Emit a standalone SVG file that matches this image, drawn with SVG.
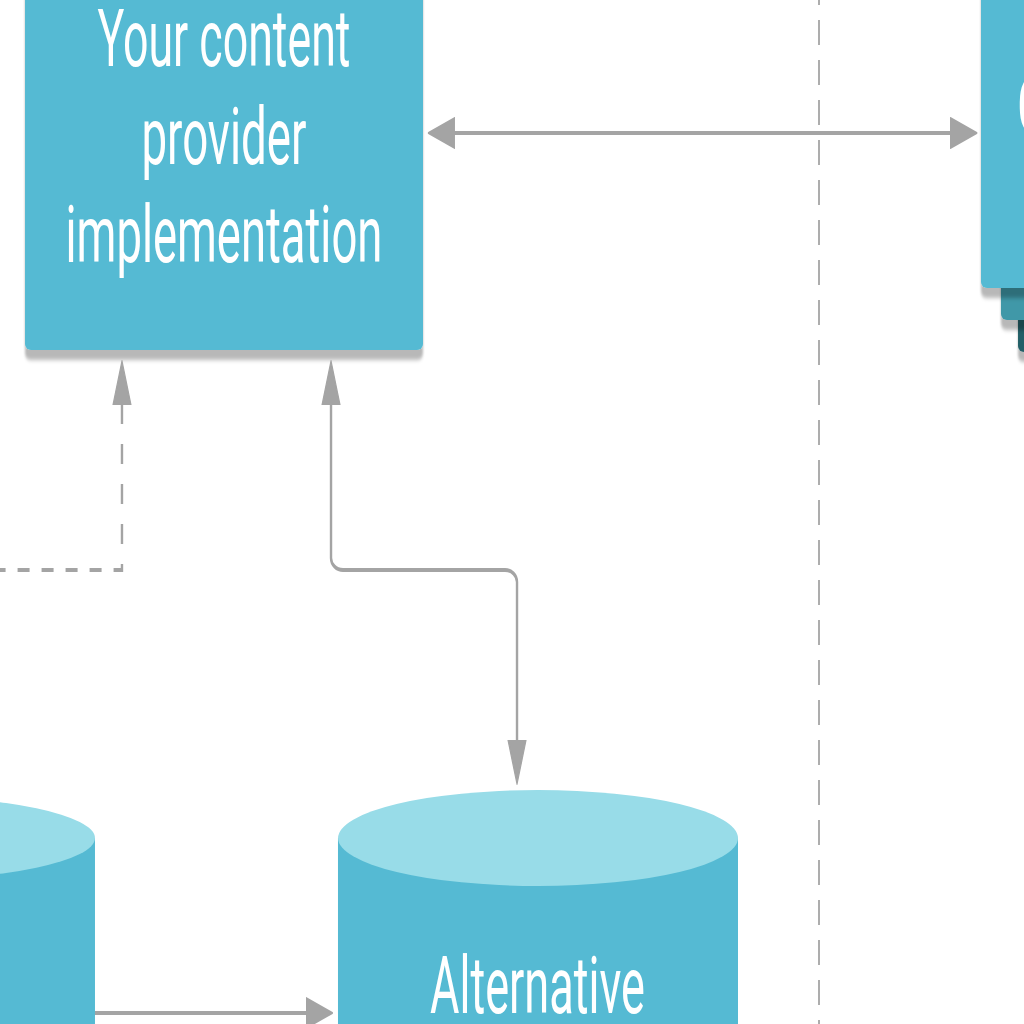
<svg xmlns="http://www.w3.org/2000/svg" width="1024" height="1024" viewBox="0 0 1024 1024">
  <style>
    .box { fill: #55BAD3; }
    .lbl { font-family: Roboto, "Liberation Sans", sans-serif; font-size: 80px; fill: #FFFFFF; text-anchor: middle; }
    .conn { fill: none; stroke: #A4A4A4; stroke-width: 4; }
    .cylbody { fill: #55BAD3; }
    .cyltop { fill: #98DCE8; }
  </style>
  <defs>
    <filter id="sh" x="-10%" y="-10%" width="120%" height="130%">
      <feDropShadow dx="0" dy="10" stdDeviation="2" flood-color="#000" flood-opacity="0.28"/>
    </filter>
    <marker id="arr" markerUnits="userSpaceOnUse" markerWidth="46" markerHeight="34" viewBox="0 0 46 34" refX="1" refY="17" orient="auto-start-reverse">
      <path d="M0,2 L44,17 L0,32 z" fill="#A4A4A4" stroke="#A4A4A4" stroke-width="2" stroke-linejoin="round"/>
    </marker>
  </defs>
  <rect width="1024" height="1024" fill="#FFFFFF"/>
  <g transform="scale(0.6 1)">
    <g id="boundary">
      <line x1="1365" y1="-10" x2="1365" y2="1030" stroke="#ADADAD" stroke-width="3.3" stroke-dasharray="25 15" stroke-dashoffset="10"/>
    </g>
    <g id="other-app">
      <rect x="1696.7" y="-20" width="200" height="372" rx="10" ry="6" fill="#245F67" filter="url(#sh)"/>
      <rect x="1668.3" y="-20" width="200" height="340" rx="10" ry="6" fill="#4198A8" filter="url(#sh)"/>
      <rect x="1635" y="-20" width="250" height="308" rx="10" ry="6" class="box" filter="url(#sh)"/>
      <text x="1695" y="133" class="lbl" style="text-anchor:start">C</text>
    </g>
    <g id="provider">
      <rect x="41.7" y="-20" width="663.3" height="370" rx="10" ry="6" class="box" filter="url(#sh)"/>
      <text x="373.3" y="66" class="lbl" textLength="421.7" lengthAdjust="spacingAndGlyphs">Your content</text>
      <text x="373.3" y="164" class="lbl" textLength="275" lengthAdjust="spacingAndGlyphs">provider</text>
      <text x="373.3" y="262" class="lbl" textLength="528" lengthAdjust="spacingAndGlyphs">implementation</text>
    </g>
    <g id="left-store">
      <rect x="-508.3" y="838" width="666.6" height="200" class="cylbody"/>
      <ellipse cx="-175" cy="838" rx="333.3" ry="42" class="cyltop"/>
    </g>
    <g id="alternative-store">
      <rect x="563.3" y="838" width="666.7" height="200" class="cylbody"/>
      <ellipse cx="896.7" cy="838" rx="333.3" ry="48" class="cyltop"/>
      <text x="895.8" y="1013" class="lbl" textLength="358" lengthAdjust="spacingAndGlyphs">Alternative</text>
    </g>
    <g id="connectors">
      <path class="conn" d="M757 133 H1585" marker-start="url(#arr)" marker-end="url(#arr)"/>
      <path class="conn" d="M203.3 404 V570 H-10" stroke-dasharray="20 20" marker-start="url(#arr)"/>
      <path class="conn" d="M551.7 404 V558 A20 12 0 0 0 571.7 570 H841.7 A20 12 0 0 1 861.7 582 V741" marker-start="url(#arr)" marker-end="url(#arr)"/>
      <path class="conn" d="M158.3 1013 H511" marker-end="url(#arr)"/>
    </g>
  </g>
</svg>
